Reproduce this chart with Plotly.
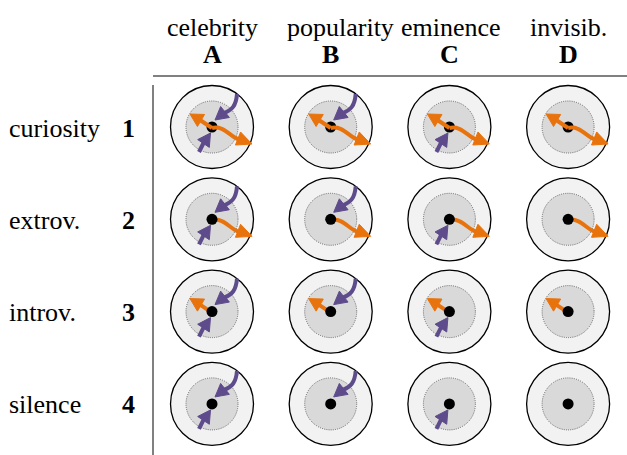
import plotly.graph_objects as go
import math

# ---- data ----
col_names = ["celebrity", "popularity", "eminence", "invisib."]
col_letters = ["A", "B", "C", "D"]
row_names = ["curiosity", "extrov.", "introv.", "silence"]
row_numbers = ["1", "2", "3", "4"]
# incoming (purple) arrows per column
in_top = [1, 1, 0, 0]
in_bottom = [1, 0, 1, 0]
# outgoing (orange) arrows per row
out_left = [1, 0, 1, 0]
out_right = [1, 1, 0, 0]

# ---- layout geometry ----
W, H = 627, 455
cx0, cdx = 212, 118.7
cy0, cdy = 127, 92.3
R_OUT, R_IN, R_DOT = 41.5, 26, 5.5
PURPLE = "#5e4b8b"
ORANGE = "#e8730c"
FONT = "Liberation Serif"
FS = 26
header_dx = [0, 10, 2, 0]   # small horizontal nudges of header names

fig = go.Figure()
fig.add_trace(go.Scatter(x=[0, W], y=[0, H], mode="markers",
                         marker=dict(opacity=0), hoverinfo="skip", showlegend=False))
shapes = []


def circle(cx, cy, r, fill, line):
    shapes.append(dict(type="circle", xref="x", yref="y", x0=cx - r, x1=cx + r,
                       y0=cy - r, y1=cy + r, fillcolor=fill, line=line, layer="above"))


def head(cx, cy, base, tip, color, hw=7):
    bx, by = base
    tx, ty = tip
    dx, dy = tx - bx, ty - by
    n = math.hypot(dx, dy)
    nx, ny = -dy / n * hw, dx / n * hw
    p = (f"M {cx+tx},{cy+ty} L {cx+bx+nx},{cy+by+ny} "
         f"L {cx+bx-nx},{cy+by-ny} Z")
    shapes.append(dict(type="path", xref="x", yref="y", path=p, fillcolor=color,
                       line=dict(color=color, width=1), layer="above"))


def curve(cx, cy, pts, color, width=4):
    (x0, y0) = pts[0]
    if len(pts) == 4:
        (a, b), (c, d), (e, f) = pts[1:]
        p = (f"M {cx+x0},{cy+y0} C {cx+a},{cy+b} {cx+c},{cy+d} {cx+e},{cy+f}")
    else:
        (e, f) = pts[1]
        p = f"M {cx+x0},{cy+y0} L {cx+e},{cy+f}"
    shapes.append(dict(type="path", xref="x", yref="y", path=p,
                       line=dict(color=color, width=width), layer="above"))


def arrow_in_top(cx, cy):
    curve(cx, cy, [(25, -33), (24, -21), (20, -17), (12, -14)], PURPLE)
    head(cx, cy, (13, -15), (3, -7), PURPLE)


def arrow_in_bottom(cx, cy):
    curve(cx, cy, [(-13, 25), (-8, 15)], PURPLE)
    head(cx, cy, (-8.5, 16.5), (-1.5, 6), PURPLE)


def arrow_out_left(cx, cy):
    curve(cx, cy, [(0, 1), (-12, -7)], ORANGE)
    head(cx, cy, (-11, -6.5), (-22, -13), ORANGE)


def arrow_out_right(cx, cy):
    curve(cx, cy, [(0, 1), (12, -2), (18, 10), (27, 12.5)], ORANGE)
    head(cx, cy, (26, 11.5), (40, 17), ORANGE)


for j in range(len(row_names)):
    for i in range(len(col_names)):
        cx = cx0 + i * cdx
        cy = cy0 + j * cdy
        circle(cx, cy, R_OUT, "#f2f2f2", dict(color="black", width=1.3))
        circle(cx, cy, R_IN, "#d9d9d9", dict(color="#666666", width=1, dash="1px,1.2px"))
        both = out_left[j] and out_right[j]
        if not both:
            if out_left[j]:
                arrow_out_left(cx, cy)
            if out_right[j]:
                arrow_out_right(cx, cy)
        if in_top[i]:
            arrow_in_top(cx, cy)
        if in_bottom[i]:
            arrow_in_bottom(cx, cy)
        circle(cx, cy, R_DOT, "black", dict(color="black", width=0))
        if both:
            arrow_out_left(cx, cy)
            arrow_out_right(cx, cy)

# separator lines
shapes.append(dict(type="line", xref="x", yref="y", x0=153, x1=W, y0=76, y1=76,
                   line=dict(color="#808080", width=2)))
shapes.append(dict(type="line", xref="x", yref="y", x0=153, x1=153, y0=85, y1=H,
                   line=dict(color="#808080", width=2)))

ann = []
for i, (nm, lt) in enumerate(zip(col_names, col_letters)):
    cx = cx0 + i * cdx
    ann.append(dict(x=cx + header_dx[i], y=27, text=nm, showarrow=False, xref="x", yref="y",
                    font=dict(family=FONT, size=FS, color="black")))
    ann.append(dict(x=cx, y=54, text=f"<b>{lt}</b>", showarrow=False, xref="x", yref="y",
                    font=dict(family=FONT, size=FS, color="black")))
for j, (nm, nb) in enumerate(zip(row_names, row_numbers)):
    cy = cy0 + j * cdy
    ann.append(dict(x=7, y=cy + 1, text=nm, showarrow=False, xref="x", yref="y",
                    xanchor="left", font=dict(family=FONT, size=FS, color="black")))
    ann.append(dict(x=128, y=cy + 1, text=f"<b>{nb}</b>", showarrow=False, xref="x", yref="y",
                    font=dict(family=FONT, size=FS, color="black")))

fig.update_layout(width=W, height=H, margin=dict(l=0, r=0, t=0, b=0),
                  plot_bgcolor="white", paper_bgcolor="white",
                  xaxis=dict(range=[0, W], visible=False, fixedrange=True),
                  yaxis=dict(range=[H, 0], visible=False, fixedrange=True),
                  shapes=shapes, annotations=ann, showlegend=False)
fig.write_html("out.html", config={"displayModeBar": False},
               post_script="document.body.style.margin='0';document.body.style.overflow='hidden';")
